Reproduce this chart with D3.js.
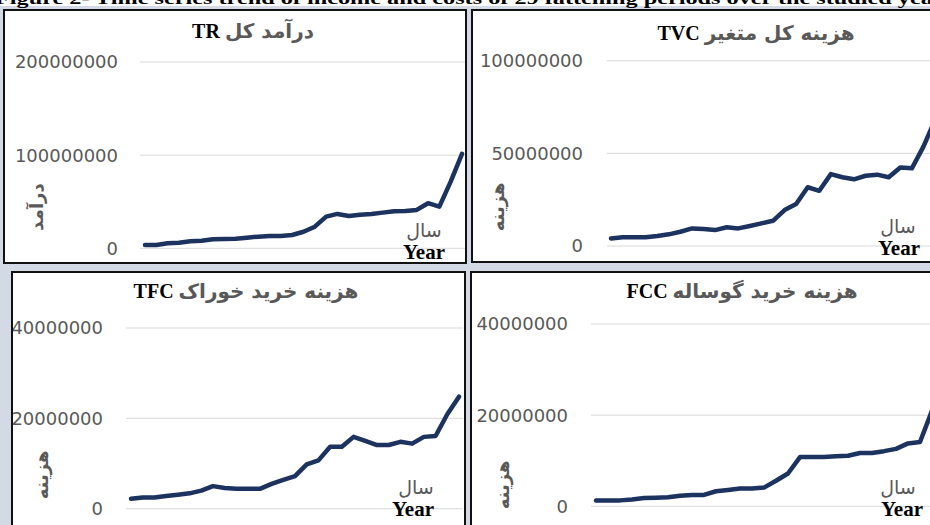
<!DOCTYPE html>
<html><head><meta charset="utf-8">
<script src="https://cdn.jsdelivr.net/npm/d3@7"></script>
<style>html,body{margin:0;padding:0;background:#fff;overflow:hidden}</style>
</head><body>
<svg id="c" width="930" height="525"></svg>
<script>
const periods = [1,2,3,4,5,6,7,8,9,10,11,12,13,14,15,16,17,18,19,20,21,22,23,24,25,26,27,28,29];
// values in Rials
const trValues  = [3.5,3.5,5.4,6.0,7.5,8.2,9.7,10,10.3,11.4,12.5,13.2,13.2,14.3,17.8,23.2,34,36.9,34.7,36.1,36.9,38.3,39.8,40.1,41.2,48.4,44.7,71.6,101.4].map(v=>v*1e6);
const tvcValues = [4.1,4.7,4.7,4.7,5.4,6.3,7.7,9.5,9.2,8.6,10.1,9.5,10.8,12.2,13.6,19.4,22.7,31.7,29.8,38.8,37.1,36,37.9,38.5,37.1,42.4,41.9,53.6,68].map(v=>v*1e6);
const tfcValues = [2.2,2.5,2.5,2.8,3.1,3.4,4.0,5.0,4.6,4.4,4.4,4.4,5.5,6.4,7.2,9.8,10.7,13.7,13.7,15.9,15.0,14.1,14.1,14.8,14.4,15.9,16.1,20.9,24.8].map(v=>v*1e6);
const fccValues = [1.3,1.3,1.3,1.5,1.8,1.9,2.0,2.3,2.5,2.5,3.3,3.6,3.9,3.9,4.1,5.6,7.2,10.8,10.8,10.8,11.0,11.1,11.7,11.7,12.1,12.6,13.8,14.1,21].map(v=>v*1e6);
const trTicks  = [0, 100000000, 200000000];
const tvcTicks = [0, 50000000, 100000000];
const tfcTicks = [0, 20000000, 40000000];
const fccTicks = [0, 20000000, 40000000];
const caption = "Figure 2- Time series trend of income and costs of 29 fattening periods over the studied years";
const xLabelFa = "سال", xLabelEn = "Year";

const svg = d3.select("#c");
const GRAY = "#595959", NAVY = "#1c325f";

svg.append("rect").attr("x",0).attr("y",6).attr("width",930).attr("height",519).attr("fill","#d3dae6");
svg.append("text").attr("x",-5).attr("y",4).attr("font-family","Liberation Serif").attr("font-weight","bold")
  .attr("font-size",17).attr("textLength",958).attr("lengthAdjust","spacingAndGlyphs").attr("fill","#000").text(caption);

const panels = [
  {frame:[4,10,462,253], values:trValues, ticks:trTicks, domain:[0,200000000], xr:[145,462], yr:[248.3,62], grid:[140,465], labX:118,
   titleEn:"TR", titleFa:"درآمد کل", tx:253, ty:38, yTitle:"درآمد", ytx:37, yty:207, salX:424, salY:237, yearX:424, yearY:259},
  {frame:[472,10,470,252], values:tvcValues, ticks:tvcTicks, domain:[0,100000000], xr:[611,935], yr:[246,60.7], grid:[607,935], labX:583,
   titleEn:"TVC", titleFa:"هزینه کل متغیر", tx:756, ty:40, yTitle:"هزینه", ytx:498, yty:207, salX:898, salY:233, yearX:899, yearY:255},
  {frame:[12,272,453,260], values:tfcValues, ticks:tfcTicks, domain:[0,40000000], xr:[131,459], yr:[508.7,328], grid:[126,463], labX:103,
   titleEn:"TFC", titleFa:"هزینه خرید خوراک", tx:246, ty:298, yTitle:"هزینه", ytx:42, yty:475, salX:416, salY:494, yearX:413, yearY:516},
  {frame:[471,272,470,260], values:fccValues, ticks:fccTicks, domain:[0,40000000], xr:[596,932], yr:[506.3,324], grid:[591,935], labX:568,
   titleEn:"FCC", titleFa:"هزینه خرید گوساله", tx:742, ty:298, yTitle:"هزینه", ytx:503, yty:485, salX:898, salY:494, yearX:902, yearY:516}
];

panels.forEach((p,i)=>{
  const g = svg.append("g");
  const [fx,fy,fw,fh] = p.frame;
  g.append("rect").attr("x",fx).attr("y",fy).attr("width",fw).attr("height",fh).attr("fill","#fff").attr("stroke","#111").attr("stroke-width",2);
  const cid = "clip"+i;
  svg.append("clipPath").attr("id",cid).append("rect").attr("x",fx+1).attr("y",fy+1).attr("width",fw-2).attr("height",fh-2);
  const inner = g.append("g").attr("clip-path",`url(#${cid})`);

  const x = d3.scalePoint().domain(periods).range(p.xr);
  const y = d3.scaleLinear().domain(p.domain).range(p.yr);

  inner.selectAll("line.grid").data(p.ticks).join("line").attr("class","grid")
    .attr("x1",p.grid[0]).attr("x2",p.grid[1]).attr("y1",d=>y(d)).attr("y2",d=>y(d))
    .attr("stroke","#d9d9d9").attr("stroke-width",1);
  inner.selectAll("text.tick").data(p.ticks).join("text").attr("class","tick")
    .attr("x",p.labX).attr("y",d=>y(d)).attr("dy","0.36em").attr("text-anchor","end")
    .attr("font-family","DejaVu Sans").attr("font-size",18).attr("fill",GRAY).text(d=>d3.format("d")(d));

  // title
  const t = inner.append("text").attr("x",p.tx).attr("y",p.ty).attr("text-anchor","middle");
  t.append("tspan").attr("font-family","Liberation Serif").attr("font-weight","bold").attr("font-size",20).attr("fill","#000").text(p.titleEn);
  t.append("tspan").attr("font-size",20).text(" ");
  t.append("tspan").attr("font-family","DejaVu Sans").attr("font-weight","bold").attr("font-size",20).attr("fill",GRAY).text(p.titleFa);

  // y title
  inner.append("text").attr("transform",`translate(${p.ytx},${p.yty}) rotate(-90)`).attr("text-anchor","middle")
    .attr("dy","0.35em").attr("font-family","DejaVu Sans").attr("font-weight","bold").attr("font-size",18).attr("fill",GRAY).text(p.yTitle);

  // line
  inner.append("path").datum(p.values)
    .attr("d", d3.line().x((d,j)=>x(periods[j])).y(d=>y(d)))
    .attr("fill","none").attr("stroke",NAVY).attr("stroke-width",4.5).attr("stroke-linejoin","round").attr("stroke-linecap","round");

  // x labels
  inner.append("text").attr("x",p.salX).attr("y",p.salY).attr("text-anchor","middle")
    .attr("font-family","DejaVu Sans").attr("font-size",19).attr("fill",GRAY).text(xLabelFa);
  inner.append("text").attr("x",p.yearX).attr("y",p.yearY).attr("text-anchor","middle")
    .attr("font-family","Liberation Serif").attr("font-weight","bold").attr("font-size",21).attr("fill","#000").text(xLabelEn);
});
</script>
</body></html>
